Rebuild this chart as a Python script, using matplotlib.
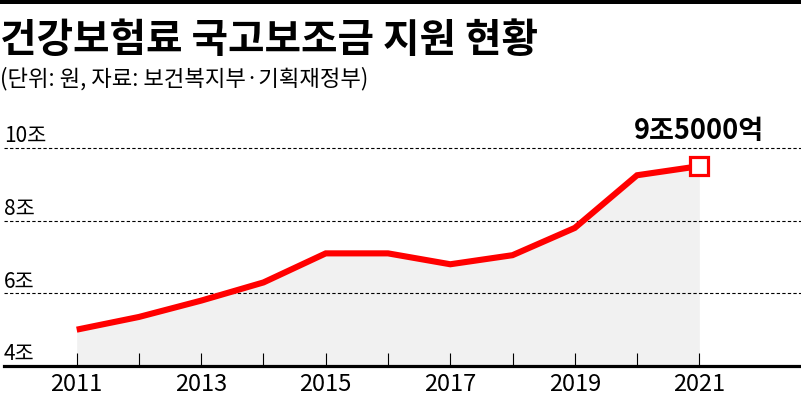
import matplotlib
matplotlib.use("Agg")
import matplotlib.pyplot as plt
from matplotlib.patches import Rectangle
import matplotlib.transforms as mtransforms

plt.rcParams['font.family'] = ['Noto Sans CJK KR', 'DejaVu Sans']

# ---- data ----
years = [2011, 2012, 2013, 2014, 2015, 2016, 2017, 2018, 2019, 2020, 2021]
values = [5.0, 5.35, 5.8, 6.3, 7.1, 7.1, 6.8, 7.05, 7.8, 9.25, 9.5]  # 조 원
xtick_years = [2011, 2013, 2015, 2017, 2019, 2021]
ytick_values = [4, 6, 8, 10]
ytick_labels = ['4조', '6조', '8조', '10조']
title = '건강보험료 국고보조금 지원 현황'
subtitle = '(단위: 원, 자료: 보건복지부·기획재정부)'
last_label = '9조5000억'

W, H = 801, 398
fig = plt.figure(figsize=(W / 100, H / 100), dpi=100)

# axes placement (pixels)
x_left_px, x_right_px = 4, 801
y4_px, y10_px = 366, 148
unit = (y4_px - y10_px) / 6.0
ytop_val = 10.5
top_px = y4_px - (ytop_val - 4) * unit
ax = fig.add_axes([x_left_px / W, (H - y4_px) / H,
                   (x_right_px - x_left_px) / W, (y4_px - top_px) / H])

step = (699.3 - 76.7) / 10
ax.set_xlim(2011 - (76.7 - x_left_px) / step, 2011 + (x_right_px - 76.7) / step)
ax.set_ylim(4, ytop_val)

# fill
ax.fill_between(years, values, 4, color='#f1f1f1', lw=0, zorder=1)

# gridlines
for v in ytick_values[1:]:
    ax.axhline(v, color='black', lw=0.8, ls=(0, (3, 2)), zorder=2)

# line
ax.plot(years, values, color='#ff0000', lw=4.4, solid_joinstyle='miter',
        solid_capstyle='butt', zorder=3)
ax.plot([years[-1]], [values[-1]], marker='s', ms=13.5, mfc='white',
        mec='#ff0000', mew=2.3, zorder=4, clip_on=False)

# annotation of last value
ax.text(years[-1], 4 + (y4_px - 139) / unit, last_label, ha='center', va='baseline',
        fontsize=19.5, fontweight='bold', color='black', zorder=5)

# y labels
trans = mtransforms.blended_transform_factory(fig.transFigure, ax.transData)
for v, lab in zip(ytick_values, ytick_labels):
    ax.text(4 / W, v + 5.5 / unit, lab, transform=trans, ha='left', va='baseline',
            fontsize=15, color='black')

# spines & ticks
for s in ['top', 'right', 'left']:
    ax.spines[s].set_visible(False)
ax.spines['bottom'].set_linewidth(2.3)
ax.spines['bottom'].set_color('black')
ax.set_yticks([])
ax.set_xticks(years)
ax.set_xticklabels([str(y) if y in xtick_years else '' for y in years])
ax.tick_params(axis='x', direction='in', length=9.5, width=0.8, color='black',
               pad=5, labelsize=17)
for t in ax.get_xticklabels():
    t.set_fontfamily(['Liberation Sans Narrow', 'Noto Sans CJK KR'])
ax.patch.set_alpha(0)

# top bar
fig.add_artist(Rectangle((0, 1 - 4 / H), 1, 4 / H, transform=fig.transFigure,
                         color='black', lw=0))

# title / subtitle
fig.text(0 / W, 1 - 40 / H, title, ha='left', va='center', fontsize=28.6,
         fontweight='black', color='black')
fig.text(0 / W, 1 - 79 / H, subtitle, ha='left', va='center', fontsize=16,
         fontweight='medium', color='black')

fig.savefig('out.png', dpi=100)
